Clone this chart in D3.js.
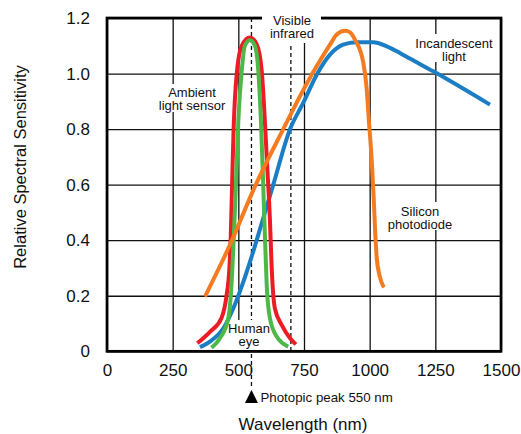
<!DOCTYPE html>
<html>
<head>
<meta charset="utf-8">
<script src="https://cdn.jsdelivr.net/npm/d3@7"></script>
<style>
  html, body { margin: 0; padding: 0; background: #fff; }
  svg { display: block; font-family: "Liberation Sans", Arial, Helvetica, sans-serif; }
</style>
</head>
<body>
<svg id="chart" width="521" height="434"></svg>
<script>
// ---- data ----
const xTicks = [0, 250, 500, 750, 1000, 1250, 1500];
const yTicks = [0, 0.2, 0.4, 0.6, 0.8, 1.0, 1.2];
const yTickLabels = ["0", "0.2", "0.4", "0.6", "0.8", "1.0", "1.2"];

const ambientWl  = [344, 392, 436, 455, 466, 471, 476, 482, 494, 513, 544, 570, 589, 601, 610, 620, 627, 639, 665, 697, 719];
const ambientVal = [0.029, 0.07, 0.12, 0.20, 0.30, 0.41, 0.59, 0.80, 1.0, 1.10, 1.13, 1.105, 1.01, 0.83, 0.665, 0.48, 0.30, 0.155, 0.095, 0.047, 0.025];

const eyeWl  = [398, 430, 462, 474, 483, 491, 500, 513, 525, 544, 563, 576, 586, 593, 601, 608, 620, 646, 690];
const eyeVal = [0.013, 0.047, 0.12, 0.24, 0.42, 0.60, 0.83, 1.01, 1.10, 1.12, 1.10, 1.01, 0.83, 0.65, 0.42, 0.24, 0.12, 0.053, 0.017];

const lampWl  = [354, 392, 443, 481, 519, 557, 595, 633, 697, 747, 798, 849, 899, 950, 1014, 1065, 1115, 1153, 1242, 1458];
const lampVal = [0.015, 0.035, 0.083, 0.155, 0.25, 0.36, 0.48, 0.60, 0.80, 0.894, 0.995, 1.068, 1.104, 1.113, 1.113, 1.098, 1.074, 1.054, 1.008, 0.888];

const siWl  = [373, 468, 563, 671, 747, 798, 849, 874, 906, 925, 944, 976, 988, 997, 1007, 1015, 1021, 1027, 1037, 1054];
const siVal = [0.197, 0.383, 0.593, 0.80, 0.94, 1.026, 1.104, 1.14, 1.154, 1.148, 1.122, 1.038, 0.953, 0.83, 0.70, 0.56, 0.43, 0.335, 0.275, 0.23];

const photopicPeak = 550;
const visibleLimit = 700;

// ---- layout ----
const svg = d3.select("#chart");
const mLeft = 107, mRight = 501, mTop = 18, mBottom = 351.3;
const x = d3.scaleLinear().domain([0, 1500]).range([mLeft, mRight]);
const y = d3.scaleLinear().domain([0, 1.2]).range([mBottom, mTop]);

// grid
const gx = svg.append("g").attr("transform", `translate(0,${mBottom})`)
  .call(d3.axisBottom(x).tickValues(xTicks).tickSize(-(mBottom - mTop)).tickPadding(13).tickFormat(d3.format("d")));
gx.select(".domain").remove();
gx.selectAll(".tick line").attr("stroke", "#111").attr("stroke-width", 1.3);
gx.selectAll(".tick text").attr("font-size", 17).attr("fill", "#111")
  .attr("font-family", "Liberation Sans, Arial, sans-serif");

const gy = svg.append("g").attr("transform", `translate(${mLeft},0)`)
  .call(d3.axisLeft(y).tickValues(yTicks).tickSize(-(mRight - mLeft)).tickPadding(17)
    .tickFormat((d, i) => yTickLabels[i]));
gy.select(".domain").remove();
gy.selectAll(".tick line").attr("stroke", "#111").attr("stroke-width", 1.3);
gy.selectAll(".tick text").attr("font-size", 17).attr("fill", "#111")
  .attr("font-family", "Liberation Sans, Arial, sans-serif");

// dashed reference lines
svg.append("line")
  .attr("x1", x(photopicPeak)).attr("x2", x(photopicPeak))
  .attr("y1", mTop).attr("y2", 388)
  .attr("stroke", "#111").attr("stroke-width", 1.3).attr("stroke-dasharray", "4,3");
svg.append("line")
  .attr("x1", x(visibleLimit)).attr("x2", x(visibleLimit))
  .attr("y1", mTop).attr("y2", mBottom)
  .attr("stroke", "#111").attr("stroke-width", 1.3).attr("stroke-dasharray", "4,3");

// frame
svg.append("rect").attr("x", mLeft).attr("y", mTop)
  .attr("width", mRight - mLeft).attr("height", mBottom - mTop)
  .attr("fill", "none").attr("stroke", "#000").attr("stroke-width", 2.7);

// labels with white backgrounds
function label(lines, cx, cy, bg) {
  if (bg) {
    svg.append("rect").attr("x", bg[0]).attr("y", bg[1]).attr("width", bg[2]).attr("height", bg[3]).attr("fill", "#fff");
  }
  const t = svg.append("text").attr("text-anchor", "middle").attr("font-size", 13).attr("fill", "#111");
  lines.forEach((s, i) => {
    t.append("tspan").attr("x", cx).attr("y", cy + i * 13.5).text(s);
  });
}
label(["Visible", "infrared"], 292, 24.5, [262, 9, 59, 34]);
label(["Ambient", "light sensor"], 192, 96.5, [155, 84, 74, 28]);
label(["Incandescent", "light"], 454, 47.5, [413, 34, 83, 28]);
label(["Silicon", "photodiode"], 420, 215.5, [384, 202, 72, 28]);
label(["Human", "eye"], 249, 332.5, [228, 320, 42, 30]);

// curves
const line = d3.line().x(d => x(d[0])).y(d => y(d[1])).curve(d3.curveMonotoneX);
const series = [
  { wl: lampWl, val: lampVal, color: "#1b7dc3" },
  { wl: ambientWl, val: ambientVal, color: "#ec1c24" },
  { wl: eyeWl, val: eyeVal, color: "#4db848" },
  { wl: siWl, val: siVal, color: "#f47b20" }
];
series.forEach(s => {
  svg.append("path")
    .datum(s.wl.map((w, i) => [w, s.val[i]]))
    .attr("d", line)
    .attr("fill", "none")
    .attr("stroke", s.color)
    .attr("stroke-width", 4)
    .attr("stroke-linejoin", "round");
});

// photopic marker
const px = x(photopicPeak);
svg.append("path")
  .attr("d", `M${px - 6.5},403 L${px + 6.5},403 L${px},390 Z`)
  .attr("fill", "#000");
svg.append("text").attr("x", px + 9).attr("y", 401.5)
  .attr("font-size", 13.3).attr("fill", "#111").text("Photopic peak 550 nm");

// axis titles
svg.append("text").attr("x", 303).attr("y", 430)
  .attr("text-anchor", "middle").attr("font-size", 17).attr("fill", "#111")
  .text("Wavelength (nm)");
svg.append("text")
  .attr("transform", "translate(26,167) rotate(-90)")
  .attr("text-anchor", "middle").attr("font-size", 16.5).attr("fill", "#111")
  .text("Relative Spectral Sensitivity");
</script>
</body>
</html>
